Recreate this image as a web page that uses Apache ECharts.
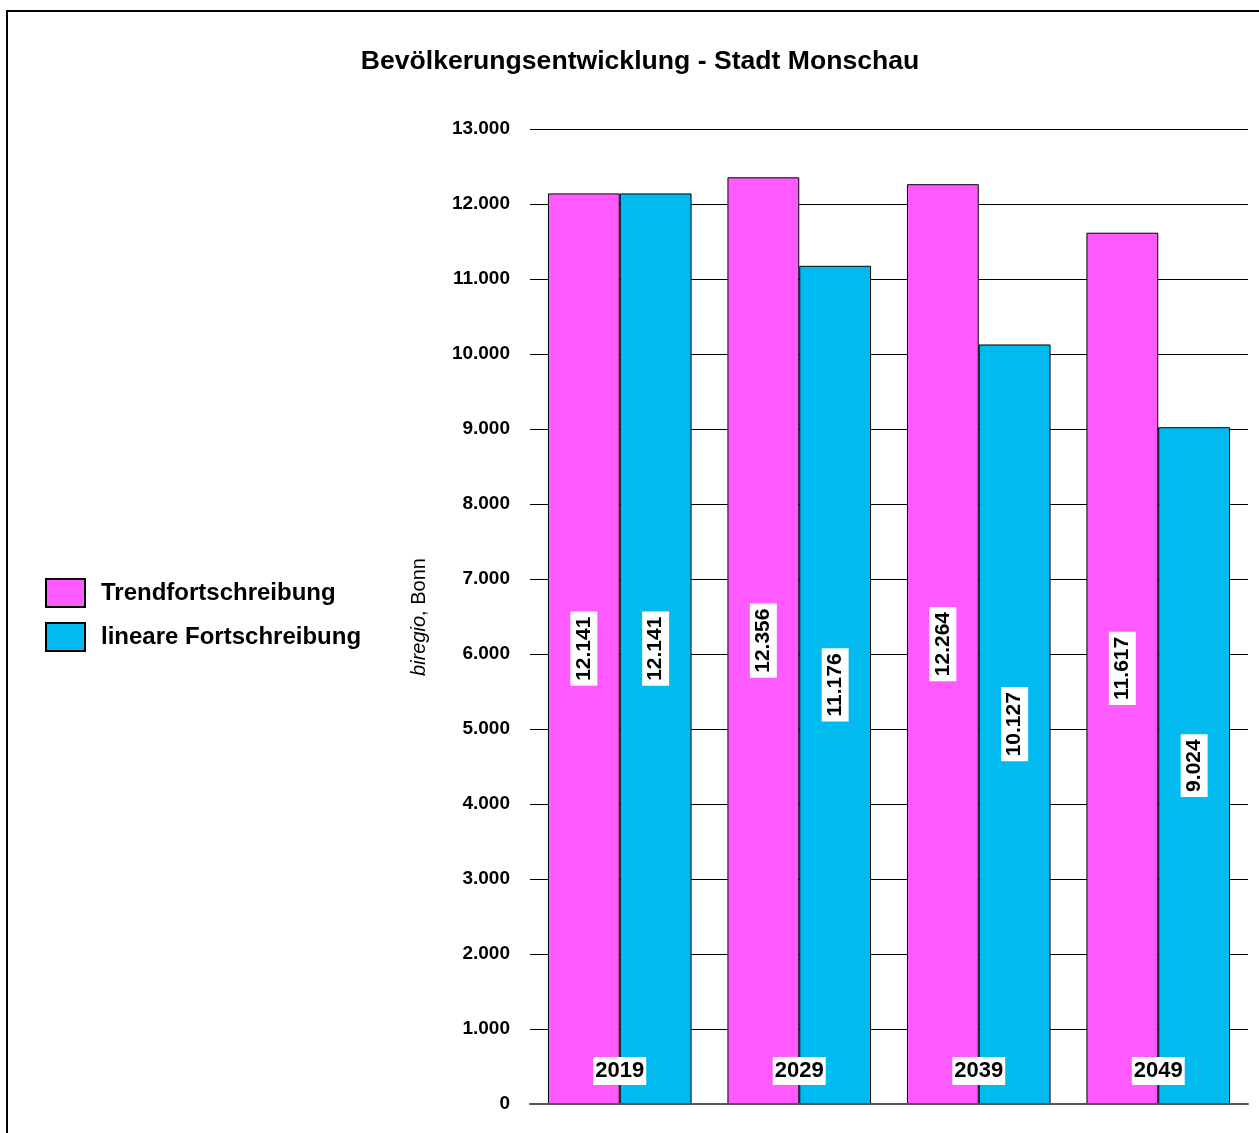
<!DOCTYPE html>
<html>
<head>
<meta charset="utf-8">
<script src="https://cdn.jsdelivr.net/npm/echarts@6/dist/echarts.min.js"></script>
<style>
html,body{margin:0;padding:0;background:#fff;}
#chart{width:1259px;height:1133px;}
</style>
</head>
<body>
<div id="chart"></div>
<script>
const titleText = 'Bevölkerungsentwicklung - Stadt Monschau';
const categories = ['2019', '2029', '2039', '2049'];
const seriesNames = ['Trendfortschreibung', 'lineare Fortschreibung'];
const trendValues = [12141, 12356, 12264, 11617];
const linearValues = [12141, 11176, 10127, 9024];
const yTicks = { min: 0, max: 13000, interval: 1000 };
const sourceText = ['biregio', ', Bonn'];

const fmt = v => String(v).replace(/\B(?=(\d{3})+(?!\d))/g, '.');
const FONT = '"Liberation Sans", Arial, sans-serif';

const barLabel = {
  show: true,
  position: 'inside',
  rotate: 90,
  formatter: p => fmt(p.value),
  backgroundColor: '#fff',
  padding: [3, 5],
  color: '#000',
  fontFamily: FONT,
  fontWeight: 'bold',
  fontSize: 21
};

const chart = echarts.init(document.getElementById('chart'), null, { renderer: 'canvas' });
chart.setOption({
  backgroundColor: '#fff',
  animation: false,
  title: {
    text: titleText,
    left: 635,
    textAlign: 'center',
    top: 43,
    textStyle: { fontFamily: FONT, fontWeight: 'bold', fontSize: 26.6, color: '#000' }
  },
  legend: {
    orient: 'vertical',
    left: 45,
    top: 578,
    padding: 0,
    itemWidth: 39,
    itemHeight: 28,
    itemGap: 14,
    icon: 'rect',
    textStyle: { fontFamily: FONT, fontWeight: 'bold', fontSize: 24, color: '#000', padding: [0, 0, 0, 11] },
    data: seriesNames
  },
  grid: { left: 530, right: 11, top: 129, bottom: 29, containLabel: false },
  xAxis: {
    type: 'category',
    data: categories,
    axisLine: { lineStyle: { color: '#555', width: 2 } },
    axisTick: { show: false },
    axisLabel: {
      inside: true,
      margin: 19,
      color: '#000',
      fontFamily: FONT,
      fontWeight: 'bold',
      fontSize: 22,
      backgroundColor: '#fff',
      padding: [3, 2]
    },
    z: 10
  },
  yAxis: {
    type: 'value',
    min: yTicks.min,
    max: yTicks.max,
    interval: yTicks.interval,
    axisLine: { show: false },
    axisTick: { show: false },
    splitLine: { lineStyle: { color: '#000', width: 1 } },
    axisLabel: {
      formatter: v => fmt(v),
      margin: 20,
      color: '#000',
      fontFamily: FONT,
      fontWeight: 'bold',
      fontSize: 19
    }
  },
  series: [
    {
      name: seriesNames[0],
      type: 'bar',
      data: trendValues,
      barGap: '0%',
      barCategoryGap: '20%',
      itemStyle: { color: '#FF5AFF', borderColor: '#000', borderWidth: 1 },
      label: barLabel
    },
    {
      name: seriesNames[1],
      type: 'bar',
      data: linearValues,
      itemStyle: { color: '#00BAF0', borderColor: '#000', borderWidth: 1 },
      label: barLabel
    }
  ],
  graphic: [
    {
      type: 'rect',
      shape: { x: 7, y: 11, width: 1400, height: 1300 },
      style: { fill: 'none', stroke: '#000', lineWidth: 2 },
      silent: true,
      z: 100
    },
    {
      type: 'text',
      x: 419,
      y: 617,
      rotation: Math.PI / 2,
      style: {
        text: '{i|' + sourceText[0] + '}{n|' + sourceText[1] + '}',
        align: 'center',
        verticalAlign: 'middle',
        rich: {
          i: { fontFamily: FONT, fontStyle: 'italic', fontSize: 20, fill: '#000' },
          n: { fontFamily: FONT, fontSize: 20, fill: '#000' }
        }
      }
    }
  ]
});
</script>
</body>
</html>
